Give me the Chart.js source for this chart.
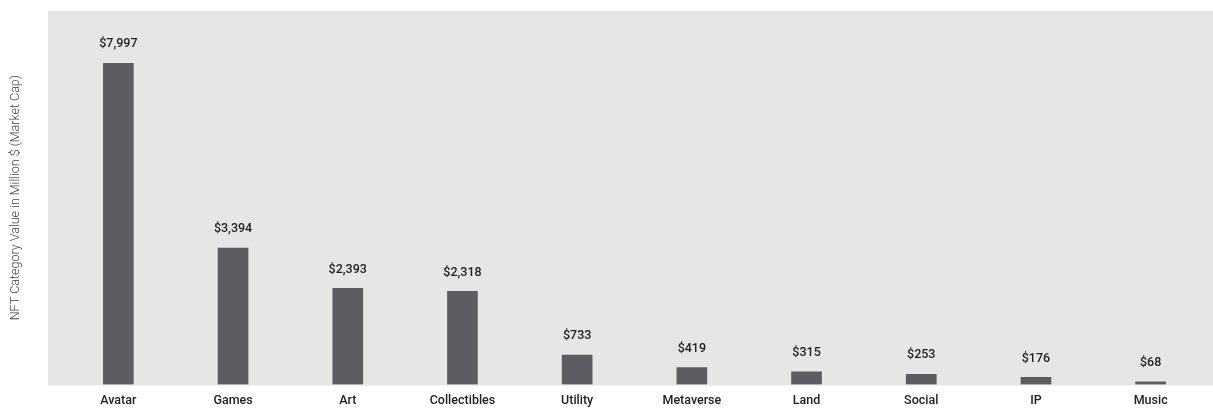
<!DOCTYPE html>
<html>
<head>
<meta charset="utf-8">
<script src="https://cdn.jsdelivr.net/npm/chart.js@4/dist/chart.umd.min.js"></script>
<style>
  html, body { margin: 0; padding: 0; background: #ffffff; }
  #wrap { width: 1213px; height: 409px; position: relative; }
</style>
</head>
<body>
<div id="wrap"><canvas id="c" width="1213" height="409"></canvas></div>
<script>
// NFT categories and their market cap (million USD)
const categories = ['Avatar', 'Games', 'Art', 'Collectibles', 'Utility', 'Metaverse', 'Land', 'Social', 'IP', 'Music'];
const marketCap = [7997, 3394, 2393, 2318, 733, 419, 315, 253, 176, 68];
const valueLabels = ['$7,997', '$3,394', '$2,393', '$2,318', '$733', '$419', '$315', '$253', '$176', '$68'];
const axisTitle = 'NFT Category Value in Million $ (Market Cap)';

const FONT = 'Roboto, "Liberation Sans", sans-serif';

// grey panel behind the bars
const panelBg = {
  id: 'panelBg',
  beforeDraw(chart) {
    const { ctx, chartArea } = chart;
    ctx.save();
    ctx.fillStyle = '#e6e6e6';
    ctx.fillRect(chartArea.left - 13, chartArea.top, chart.width - chartArea.left + 13, chartArea.bottom - chartArea.top + 1);
    ctx.restore();
  }
};

// dollar value printed above each bar
const barValues = {
  id: 'barValues',
  afterDatasetsDraw(chart) {
    const { ctx } = chart;
    const meta = chart.getDatasetMeta(0);
    ctx.save();
    ctx.font = '500 12.5px ' + FONT;
    ctx.fillStyle = '#222222';
    ctx.textAlign = 'center';
    ctx.textBaseline = 'middle';
    meta.data.forEach((bar, i) => {
      ctx.fillText(valueLabels[i], bar.x, bar.y - 19);
    });
    ctx.restore();
  }
};

new Chart(document.getElementById('c'), {
  type: 'bar',
  data: {
    labels: categories,
    datasets: [{
      data: marketCap,
      backgroundColor: '#5d5c61',
      borderWidth: 0,
      barThickness: 30
    }]
  },
  options: {
    responsive: false,
    animation: false,
    devicePixelRatio: 1,
    layout: { padding: { top: 11, right: 5, left: 0, bottom: 0 } },
    plugins: {
      legend: { display: false },
      tooltip: { enabled: false }
    },
    scales: {
      x: {
        grid: { display: false, drawTicks: false },
        border: { display: false },
        ticks: {
          padding: 9,
          color: '#222222',
          font: { family: FONT, size: 12.5, weight: '500' }
        },
        afterFit(scale) { scale.height = 24.5; }
      },
      y: {
        min: 0,
        max: 9300,
        grid: { display: false, drawTicks: false },
        border: { display: false },
        ticks: { display: false },
        title: {
          display: true,
          text: axisTitle,
          color: '#444444',
          padding: { top: 8, bottom: 0 },
          font: { family: FONT, size: 12.5, weight: '300' }
        },
        afterFit(scale) { scale.width = 61; }
      }
    }
  },
  plugins: [panelBg, barValues]
});
</script>
</body>
</html>
